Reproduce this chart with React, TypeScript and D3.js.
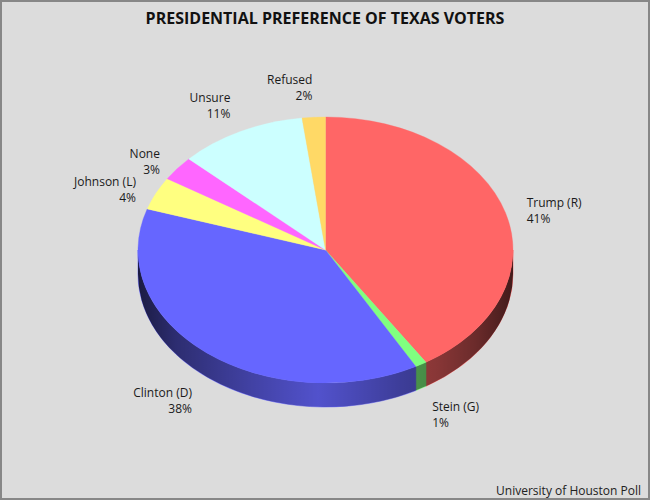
import * as d3 from 'd3';

const categories = ['Trump (R)', 'Stein (G)', 'Clinton (D)', 'Johnson (L)', 'None', 'Unsure', 'Refused'];
const shares = [41, 1, 38, 4, 3, 11, 2];
const colors = ['#ff6666', '#80ff80', '#6666ff', '#ffff80', '#ff66ff', '#ccffff', '#ffd966'];
const title = 'PRESIDENTIAL PREFERENCE OF TEXAS VOTERS';
const source = 'University of Houston Poll';

const W = 650;
const H = 500;
const cx = 325.5;
const cy = 250;
const rx = 187.5;
const ry = 133;
const depth = 24;
const font = '"Open Sans", "DejaVu Sans", sans-serif';

// point on the top ellipse, angle clockwise from 12 o'clock
const pt = (a: number, dy = 0): [number, number] => [cx + rx * Math.sin(a), cy - ry * Math.cos(a) + dy];

// visible front wall of a slice (only the lower half of the ellipse)
const sidePath = (a0: number, a1: number) => {
  const s = Math.max(a0, Math.PI / 2);
  const e = Math.min(a1, (3 * Math.PI) / 2);
  if (e <= s) return null;
  const [x0, y0] = pt(s);
  const [x1, y1] = pt(e);
  return `M${x0},${y0}A${rx},${ry} 0 0 1 ${x1},${y1}L${x1},${y1 + depth}A${rx},${ry} 0 0 0 ${x0},${y0 + depth}Z`;
};

// darkness of the wall across its width (black overlay opacity)
const shade: [number, number][] = [
  [0, 0.74],
  [0.1, 0.56],
  [0.3, 0.36],
  [0.48, 0.2],
  [0.7, 0.4],
  [0.8, 0.47],
  [0.9, 0.58],
  [1, 0.74],
];

export default function App() {
  const arcs = d3.pie<number>().sort(null).value((d) => d)(shares);
  const arcGen = d3.arc<d3.PieArcDatum<number>>().innerRadius(0).outerRadius(rx);

  const labels = arcs.map((a, i) => {
    const m = (a.startAngle + a.endAngle) / 2;
    const s = Math.sin(m);
    const c = Math.cos(m);
    const x = cx + (rx + 22) * s;
    const D = 144 + 19 * Math.max(0, Math.min(1, (Math.abs(c) - 0.6) / 0.17));
    const yc = cy + (c < 0 ? depth : 0) - D * c;
    return { x, yc, anchor: s >= 0 ? 'start' : 'end', name: categories[i], pct: `${shares[i]}%` };
  });

  return (
    <svg width={W} height={H} style={{ position: 'fixed', left: 0, top: 0 }}>
      <defs>
        <linearGradient id="wallShade" gradientUnits="userSpaceOnUse" x1={cx - rx} x2={cx + rx} y1={0} y2={0}>
          {shade.map(([o, op]) => (
            <stop key={o} offset={o} stopColor="#000" stopOpacity={op} />
          ))}
        </linearGradient>
      </defs>
      <rect x={1} y={1} width={W - 2} height={H - 2} fill="#dcdcdc" stroke="#878787" strokeWidth={2} />
      <text x={W / 2} y={24} textAnchor="middle" fontFamily={font} fontSize={16} fontWeight="bold" fill="#111">
        {title}
      </text>

      {/* walls */}
      <g>
        {arcs.map((a, i) => {
          const d = sidePath(a.startAngle, a.endAngle);
          return d ? <path key={i} d={d} fill={colors[i]} stroke={colors[i]} strokeWidth={0.6} /> : null;
        })}
        <path d={sidePath(0, Math.PI * 2) as string} fill="url(#wallShade)" />
      </g>

      {/* top faces */}
      <g transform={`translate(${cx},${cy}) scale(1,${ry / rx})`}>
        {arcs.map((a, i) => (
          <path key={i} d={arcGen(a) as string} fill={colors[i]} stroke={colors[i]} strokeWidth={0.4} />
        ))}
      </g>

      {labels.map((l, i) => (
        <text key={i} fontFamily={font} fontSize={12} fill="#1a1a1a" textAnchor={l.anchor}>
          <tspan x={l.x} y={l.yc - 3}>{l.name}</tspan>
          <tspan x={l.x} y={l.yc + 13}>{l.pct}</tspan>
        </text>
      ))}

      <text x={641} y={495} textAnchor="end" fontFamily={font} fontSize={12} fill="#222">
        {source}
      </text>
    </svg>
  );
}
